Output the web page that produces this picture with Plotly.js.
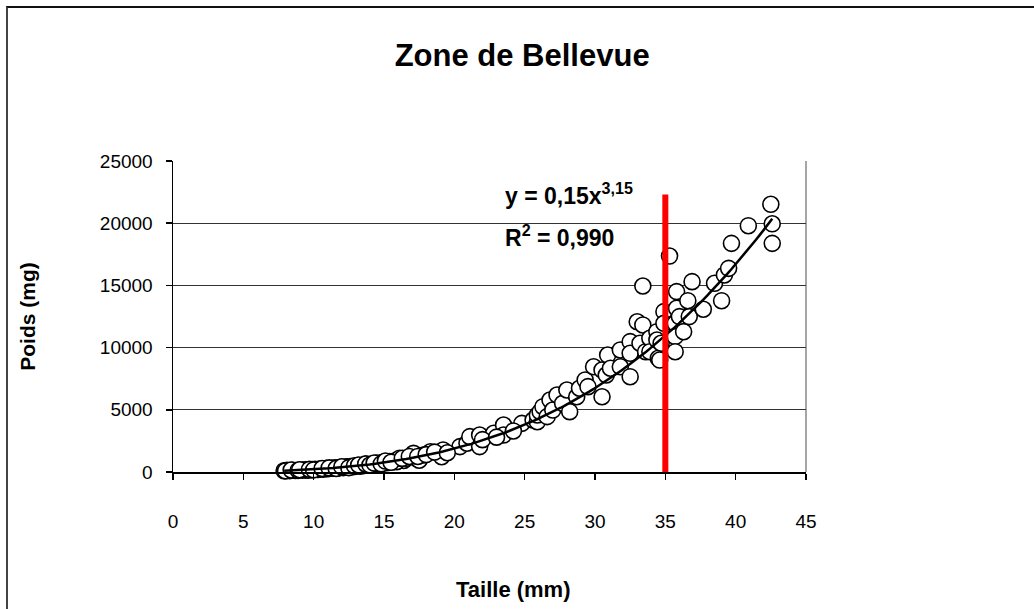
<!DOCTYPE html>
<html>
<head>
<meta charset="utf-8">
<script src="https://cdn.plot.ly/plotly-3.0.1.min.js"></script>
<style>
  html, body { margin: 0; padding: 0; background: #fff; }
  #wrap { position: relative; width: 1034px; height: 609px; overflow: hidden; }
  #chart { width: 1034px; height: 609px; }
  #frame {
    position: absolute; left: 6px; top: 6px; width: 1100px; height: 700px;
    border-left: 2px solid #444; border-top: 2px solid #111;
    pointer-events: none;
  }
</style>
</head>
<body>
<div id="wrap">
  <div id="chart"></div>
  <div id="frame"></div>
</div>
<script>
// Length (mm) of each individual
const taille = [
  7.9, 8.1, 8.3, 8.5, 8.7, 9.2, 9.4, 9.6, 9.9, 10.1,
  10.3, 10.5, 10.7, 10.9, 11.0, 11.3, 11.5, 11.7, 11.9, 12.1,
  12.3, 12.4, 12.6, 12.8, 13.0, 13.1, 13.3, 13.5, 13.6, 13.8,
  13.9, 14.1, 14.2, 14.4, 14.5, 14.7, 14.9, 15.0, 15.2, 15.4,
  15.6, 15.8, 16.0, 16.2, 16.4, 15.9, 16.1, 16.6, 17.1, 17.3,
  17.5, 17.8, 18.3, 19.1, 19.2, 20.4, 20.9, 21.1, 21.8, 21.8,
  22.8, 23.5, 23.5, 24.8, 25.6, 25.9, 25.9, 26.1, 26.3, 26.6,
  26.8, 27.0, 27.3, 27.7, 28.0, 28.2, 28.7, 28.9, 29.3, 29.5,
  29.9, 30.5, 30.5, 30.8, 30.9, 31.1, 31.8, 31.8, 32.5, 32.5,
  32.5, 33.0, 33.2, 33.4, 33.4, 33.6, 33.9, 33.9, 34.4, 34.4,
  34.5, 34.6, 34.7, 34.9, 34.9, 35.3, 35.7, 35.7, 35.7, 35.8,
  35.8, 36.0, 36.3, 36.6, 36.7, 36.9, 37.7, 38.5, 39.0, 39.2,
  39.5, 39.7, 40.9, 42.5, 42.6, 42.6,
  8.0, 8.4, 8.9, 9.0, 9.7, 10.0, 10.6, 11.1, 11.6, 12.0,
  12.5, 12.9, 13.2, 13.7, 14.0, 14.3, 14.8, 15.1, 15.5, 16.3,
  16.8, 17.4, 18.0, 18.6, 19.5, 22.0, 23.0, 24.2
];

// Weight (mg) of each individual
const poids = [
  100, 130, 110, 140, 120, 150, 170, 140, 190, 220,
  200, 250, 230, 290, 260, 300, 330, 310, 370, 350,
  410, 380, 440, 420, 480, 520, 460, 560, 530, 600,
  580, 640, 610, 680, 720, 700, 760, 800, 740, 850,
  820, 900, 960, 1000, 930, 830, 1100, 1100, 1500, 1100,
  950, 1370, 1630, 1230, 1770, 2040, 2310, 2840, 2970, 2040,
  3110, 3780, 2970, 3910, 4180, 4040, 4580, 4850, 5250, 4450,
  5790, 4980, 6190, 5520, 6590, 4850, 6050, 6730, 7400, 6860,
  8460, 8200, 6050, 7800, 9400, 8340, 9810, 8460, 10480, 9540,
  7660, 12080, 10350, 11820, 14950, 9670, 10750, 9670, 11280, 10610,
  9140, 9000, 10350, 12890, 11950, 17360, 11950, 10880, 9670, 13160,
  14500, 12490, 11280, 13770, 12490, 15300, 13080, 15170, 13770, 15840,
  16370, 18380, 19800, 21520, 19950, 18380,
  90, 160, 130, 180, 210, 170, 280, 330, 280, 420,
  350, 500, 560, 650, 560, 720, 650, 880, 780, 1100,
  1250, 1250, 1400, 1600, 1550, 2600, 2800, 3300
];

// Power-law fit: poids = a * taille^b
const coefA = 0.15;
const coefB = 3.15;
const r2 = 0.990;

// Reference length marked by the vertical line, and its height
const tailleRef = 35;
const refTop = 22300;

const xTicks = [0, 5, 10, 15, 20, 25, 30, 35, 40, 45];
const yTicks = [0, 5000, 10000, 15000, 20000, 25000];

const frNum = (v, d) => v.toFixed(d).replace('.', ',');

// Fitted curve sampled between the smallest and largest lengths
const tMin = Math.min(...taille), tMax = Math.max(...taille);
const fitX = [], fitY = [];
for (let i = 0; i <= 120; i++) {
  const t = tMin + (tMax - tMin) * i / 120;
  fitX.push(t);
  fitY.push(coefA * Math.pow(t, coefB));
}

const font = 'Liberation Sans, Arial, Helvetica, sans-serif';

const traces = [
  {
    type: 'scatter', mode: 'markers', x: taille, y: poids,
    cliponaxis: false,
    marker: { symbol: 'circle', size: 16, color: '#ffffff',
              line: { color: '#000000', width: 1.6 } },
    hoverinfo: 'x+y'
  },
  {
    type: 'scatter', mode: 'lines', x: fitX, y: fitY,
    line: { color: '#000000', width: 2.5 }, hoverinfo: 'skip'
  },
  {
    type: 'scatter', mode: 'lines', x: [tailleRef, tailleRef], y: [0, refTop],
    cliponaxis: false,
    line: { color: '#ff0000', width: 6 }, hoverinfo: 'skip'
  }
];

const layout = {
  width: 1034, height: 609,
  margin: { l: 173, r: 228, t: 161, b: 137 },
  paper_bgcolor: '#ffffff', plot_bgcolor: '#ffffff',
  showlegend: false,
  font: { family: font, color: '#000000', size: 18 },
  title: {
    text: '<b>Zone de Bellevue</b>',
    font: { family: font, size: 31, color: '#000000' },
    xref: 'container', x: 0.505, xanchor: 'center',
    yref: 'container', y: 1 - 55 / 609, yanchor: 'middle'
  },
  xaxis: {
    range: [0, 45], tickvals: xTicks, ticktext: xTicks.map(String),
    showgrid: false, zeroline: false,
    showline: true, linecolor: '#000000', linewidth: 1.5,
    ticks: 'outside', ticklen: 6, tickcolor: '#000000', tickwidth: 1.5,
    ticklabelstandoff: 26,
    tickfont: { family: font, size: 19, color: '#000000' }
  },
  yaxis: {
    range: [0, 25000], tickvals: yTicks, ticktext: yTicks.map(String),
    showgrid: true, gridcolor: '#333333', gridwidth: 1, zeroline: false,
    showline: true, linecolor: '#000000', linewidth: 1.5,
    ticks: 'outside', ticklen: 6, tickcolor: '#000000', tickwidth: 1.5,
    ticklabelstandoff: 9,
    tickfont: { family: font, size: 19, color: '#000000' },
    title: { text: '<b>Poids (mg)</b>', standoff: 58,
             font: { family: font, size: 21, color: '#000000' } }
  },
  shapes: [
    { type: 'line', xref: 'paper', yref: 'paper', x0: 1, x1: 1, y0: 0, y1: 1,
      line: { color: '#888888', width: 1.5 }, layer: 'below' }
  ],
  annotations: [
    {
      text: '<b>Taille (mm)</b>', xref: 'paper', yref: 'paper',
      x: (513 - 173) / 633, y: (472 - 589) / 311,
      xanchor: 'center', yanchor: 'middle', showarrow: false,
      font: { family: font, size: 22, color: '#000000' }
    },
    {
      text: '<b>y = ' + frNum(coefA, 2) + 'x<sup>' + frNum(coefB, 2) + '</sup></b>',
      xref: 'paper', yref: 'paper',
      x: (503 - 173) / 633, y: (472 - 194) / 311,
      xanchor: 'left', yanchor: 'middle', showarrow: false,
      font: { family: font, size: 23, color: '#000000' }
    },
    {
      text: '<b>R<sup>2</sup> = ' + frNum(r2, 3) + '</b>',
      xref: 'paper', yref: 'paper',
      x: (503 - 173) / 633, y: (472 - 236) / 311,
      xanchor: 'left', yanchor: 'middle', showarrow: false,
      font: { family: font, size: 23, color: '#000000' }
    }
  ]
};

Plotly.newPlot('chart', traces, layout, { displayModeBar: false, staticPlot: true });
</script>
</body>
</html>
